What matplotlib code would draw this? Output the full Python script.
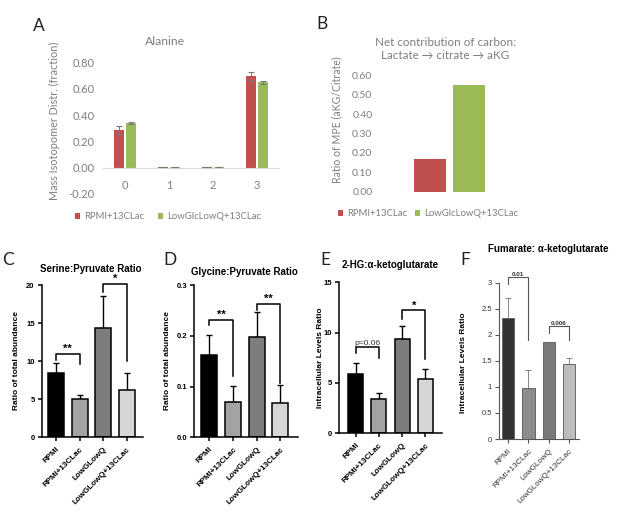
import matplotlib
matplotlib.use('Agg')
import matplotlib.pyplot as plt
import numpy as np

# ---------------- data ----------------
isotopologues = ['0', '1', '2', '3']
ala_rpmi = [0.29, 0.003, 0.002, 0.70]
ala_rpmi_err = [0.03, 0.0, 0.0, 0.03]
ala_low = [0.34, 0.003, 0.002, 0.65]
ala_low_err = [0.01, 0.0, 0.0, 0.01]
series_names = ['RPMI+13CLac', 'LowGlcLowQ+13CLac']

mpe_rpmi = [0.17]
mpe_low = [0.55]

conditions = ['RPMI', 'RPMI+13CLac', 'LowGLowQ', 'LowGLowQ+13CLac']
serine = [8.5, 5.0, 14.3, 6.2]
serine_err = [1.2, 0.6, 4.3, 2.3]
glycine = [0.162, 0.070, 0.197, 0.068]
glycine_err = [0.040, 0.031, 0.049, 0.035]
hg_akg = [5.85, 3.4, 9.4, 5.4]
hg_akg_err = [1.15, 0.65, 1.25, 0.95]
fum_akg = [2.33, 0.97, 1.86, 1.43]
fum_akg_err = [0.38, 0.35, 0.0, 0.12]

# brackets: (i, j, top, left_end, right_end, label)
serine_sig = [(0, 1, 11.0, 10.2, 9.6, '**'), (2, 3, 20.1, 19.1, 10.0, '*')]
glycine_sig = [(0, 1, 0.231, 0.221, 0.120, '**'), (2, 3, 0.262, 0.251, 0.106, '**')]
hg_sig = [(0, 1, 8.6, 8.0, 7.45, 'p=0.06'), (2, 3, 12.2, 11.4, 7.35, '*')]
fum_sig = [(0, 1, 3.10, 2.97, 1.90, '0.01'), (2, 3, 2.16, 2.04, 1.90, '0.006')]

# ---------------- figure ----------------
W, H = 617, 518
fig = plt.figure(figsize=(W / 100, H / 100), dpi=100)


def ax_px(x0, y0, x1, y1):
    return fig.add_axes([x0 / W, 1 - y1 / H, (x1 - x0) / W, (y1 - y0) / H])


XL = ['Lato', 'DejaVu Sans']
GR = '#7F7F7F'
RED = '#C0504D'
GREEN = '#9BBB59'
AR = 'Liberation Sans'

# ---------- Panel A ----------
axA = ax_px(103, 62.7, 279, 194)
for s in ['top', 'right', 'left']:
    axA.spines[s].set_visible(False)
axA.spines['bottom'].set_position(('data', 0))
axA.spines['bottom'].set_color('#D9D9D9')
axA.spines['bottom'].set_linewidth(0.8)
x = np.arange(len(isotopologues))
off, bw = 0.136, 0.227
axA.bar(x - off, ala_rpmi, bw, color=RED, label=series_names[0], zorder=2)
axA.bar(x + off, ala_low, bw, color=GREEN, label=series_names[1], zorder=2)
axA.errorbar(x - off, ala_rpmi, yerr=ala_rpmi_err, fmt='none', ecolor='#7a7a7a', elinewidth=0.8, capsize=2, capthick=0.8, zorder=3)
axA.errorbar(x + off, ala_low, yerr=ala_low_err, fmt='none', ecolor='#7a7a7a', elinewidth=0.8, capsize=2, capthick=0.8, zorder=3)
axA.set_xlim(-0.5, 3.5)
axA.set_ylim(-0.2, 0.8)
yt = [-0.2, 0.0, 0.2, 0.4, 0.6, 0.8]
axA.set_yticks(yt)
axA.set_yticklabels(['%.2f' % v for v in yt], family=XL, fontsize=8, color=GR)
axA.set_xticks(x)
axA.set_xticklabels(isotopologues, family=XL, fontsize=8, color=GR)
axA.tick_params(axis='both', length=0)
axA.tick_params(axis='y', pad=6)
axA.tick_params(axis='x', pad=9)
axA.text(0.352, 1.165, 'Alanine', transform=axA.transAxes, ha='center', va='center', family=XL, fontsize=8.8, color=GR)
axA.set_ylabel('Mass Isotopomer Distr. (fraction)', family=XL, fontsize=7.8, color=GR)
axA.yaxis.set_label_coords(-0.244, 0.56)
axA.legend(loc='center', bbox_to_anchor=(0.37, -0.175), ncol=2, frameon=False,
           prop={'family': XL, 'size': 6.8}, labelcolor=GR, handlelength=0.55, handleheight=0.55,
           handletextpad=0.4, columnspacing=1.5, borderaxespad=0)
fig.text(39 / W, 1 - 26 / H, 'A', fontsize=12.5, ha='center', va='center', color='#222222', family=XL)

# ---------- Panel B ----------
axB = ax_px(378, 75.3, 521, 191.7)
axB.bar([-off], mpe_rpmi, bw, color=RED, label=series_names[0])
axB.bar([off], mpe_low, bw, color=GREEN, label=series_names[1])
axB.set_xlim(-0.5, 0.5)
axB.set_ylim(0, 0.6)
bt = [0, 0.1, 0.2, 0.3, 0.4, 0.5, 0.6]
axB.set_yticks(bt)
axB.set_yticklabels(['%.2f' % v for v in bt], family=XL, fontsize=7.5, color=GR)
axB.set_xticks([])
for s in ['top', 'right', 'left', 'bottom']:
    axB.spines[s].set_visible(False)
axB.tick_params(axis='y', length=0, pad=4)
axB.text(0.47, 1.225, 'Net contribution of carbon:\nLactate \u2192 citrate \u2192 aKG', transform=axB.transAxes,
         ha='center', va='center', family=XL, fontsize=8.4, color=GR, linespacing=1.3)
axB.set_ylabel('Ratio of MPE (aKG/Citrate)', family=XL, fontsize=7.6, color=GR)
axB.yaxis.set_label_coords(-0.252, 0.616)
axB.legend(loc='center', bbox_to_anchor=(0.35, -0.19), ncol=2, frameon=False,
           prop={'family': XL, 'size': 6.8}, labelcolor=GR, handlelength=0.55, handleheight=0.55,
           handletextpad=0.4, columnspacing=0.8, borderaxespad=0)
fig.text(322 / W, 1 - 24 / H, 'B', fontsize=12.5, ha='center', va='center', color='#222222', family=XL)


# ---------- Prism-style panels ----------
def prism(box, vals, errs, ylim, yticks, ytl, xlim, width, title, title_xy, ylabel, ylab_x, sig,
          colors, edge='black', elw=1.1, style='prism', sigfs=8):
    ax = ax_px(*box)
    xs = np.arange(len(vals))
    ax.bar(xs, vals, width, color=colors, edgecolor=edge, linewidth=elw, zorder=2)
    ecol = 'black' if style == 'prism' else '#7a7a7a'
    ax.errorbar(xs, vals, yerr=[np.zeros(len(errs)), errs], fmt='none', ecolor=ecol,
                elinewidth=elw * 0.9, capsize=2.5, capthick=elw * 0.9, zorder=1)
    ax.set_xlim(*xlim)
    ax.set_ylim(*ylim)
    ax.set_yticks(yticks)
    for s in ['top', 'right']:
        ax.spines[s].set_visible(False)
    bold = 'bold' if style == 'prism' else 'normal'
    tcol = 'black' if style == 'prism' else '#333333'
    ax.set_yticklabels(ytl, family=AR, fontsize=5.5, fontweight=bold, color=tcol)
    ax.set_xticks(xs)
    ax.set_xticklabels(conditions, family=AR, fontsize=5.8, fontweight=bold, color=tcol,
                       rotation=45, ha='right', va='top', rotation_mode='anchor')
    slw = 1.1 if style == 'prism' else 0.8
    scol = 'black' if style == 'prism' else '#555555'
    for s in ['left', 'bottom']:
        ax.spines[s].set_linewidth(slw)
        ax.spines[s].set_color(scol)
    ax.tick_params(axis='both', direction='out', length=3, width=slw, color=scol, pad=2)
    ax.tick_params(axis='x', pad=3)
    ax.set_ylabel(ylabel, family=AR, fontsize=6, fontweight='bold')
    x0, y0, x1, y1 = box
    ax.yaxis.set_label_coords((ylab_x[0] - x0) / (x1 - x0), (y1 - ylab_x[1]) / (y1 - y0))
    fig.text(title_xy[0] / W, 1 - title_xy[1] / H, title, family=AR, fontsize=7, fontweight='bold',
             ha='center', va='center')
    lcol = 'black' if style == 'prism' else '#555555'
    llw = 1.1 if style == 'prism' else 0.8
    for (i, j, top, le, re, lab) in sig:
        ax.plot([i, i, j, j], [le, top, top, re], color=lcol, lw=llw, clip_on=False, zorder=4)
        if lab.startswith('*'):
            ax.text((i + j) / 2, top, lab, ha='center', va='bottom', fontsize=sigfs, fontweight='bold',
                    family=AR)
        elif lab.startswith('p'):
            ax.text((i + j) / 2, top, lab, ha='center', va='bottom', fontsize=6, family=AR,
                    color='#333333')
        else:
            ax.text((i + j) / 2, top, lab, ha='center', va='bottom', fontsize=4.5, fontweight='bold',
                    family=AR, color='#333333')
    return ax


pcols = ['#000000', '#A3A3A3', '#7D7D7D', '#D6D6D6']
fcols = ['#333333', '#8C8C8C', '#7A7A7A', '#BDBDBD']

prism((41.7, 285, 143, 437.3), serine, serine_err, (0, 20), [0, 5, 10, 15, 20],
      ['0', '5', '10', '15', '20'], (-0.61, 3.69), 0.68, 'Serine:Pyruvate Ratio', (91, 269),
      'Ratio of total abundance', (20, 360), serine_sig, pcols)
fig.text(8 / W, 1 - 260 / H, 'C', fontsize=12.5, ha='center', va='center', color='#222222', family=XL)

prism((194, 285, 298, 437.3), glycine, glycine_err, (0, 0.3), [0, 0.1, 0.2, 0.3],
      ['0.0', '0.1', '0.2', '0.3'], (-0.65, 3.75), 0.68, 'Glycine:Pyruvate Ratio', (244, 272),
      'Ratio of total abundance', (171, 360), glycine_sig, pcols)
fig.text(170 / W, 1 - 260 / H, 'D', fontsize=12.5, ha='center', va='center', color='#222222', family=XL)

prism((339, 282.3, 441.7, 433.3), hg_akg, hg_akg_err, (0, 15), [0, 5, 10, 15],
      ['0', '5', '10', '15'], (-0.71, 3.70), 0.64, '2-HG:\u03b1-ketoglutarate', (390, 265),
      'Intracellular Levels Ratio', (324, 358), hg_sig, pcols)
fig.text(325 / W, 1 - 260 / H, 'E', fontsize=12.5, ha='center', va='center', color='#222222', family=XL)

prism((499, 282.7, 579, 439), fum_akg, fum_akg_err, (0, 3), [0, 0.5, 1, 1.5, 2, 2.5, 3],
      ['0', '0.5', '1', '1.5', '2', '2.5', '3'], (-0.44, 3.48), 0.61, 'Fumarate: \u03b1-ketoglutarate',
      (548, 249), 'Intracellular Levels Ratio', (467, 363), fum_sig, fcols, edge='#666666', elw=0.7,
      style='excel')
fig.text(465 / W, 1 - 260 / H, 'F', fontsize=12.5, ha='center', va='center', color='#222222', family=XL)

fig.savefig('out.png', dpi=100, facecolor='white')
